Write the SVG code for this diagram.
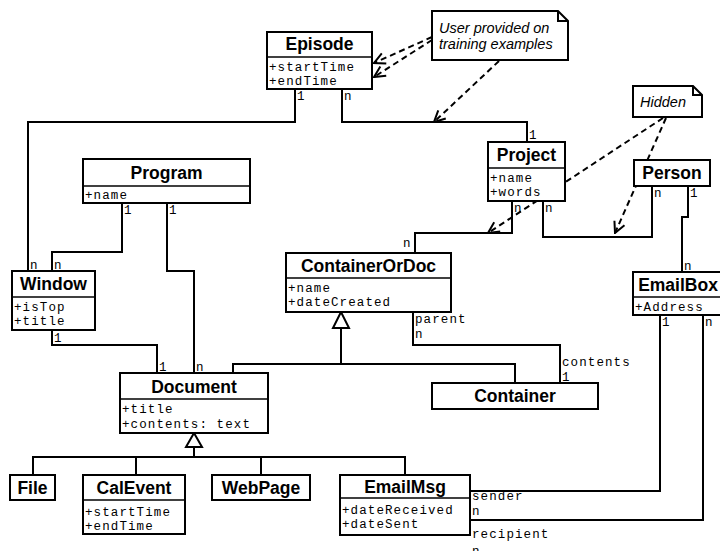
<svg xmlns="http://www.w3.org/2000/svg" width="720" height="551" viewBox="0 0 720 551">
<defs>
<marker id="open" viewBox="0 0 14 14" refX="13" refY="7" markerWidth="14" markerHeight="14" markerUnits="userSpaceOnUse" orient="auto">
<path d="M2,1.5 L13,7 L2,12.5" fill="none" stroke="#000" stroke-width="2" stroke-dasharray="none"/>
</marker>
</defs>
<style>
.box{fill:#fff;stroke:#000;stroke-width:2}
.dv{stroke:#000;stroke-width:1.5}
.t{font-family:"Liberation Sans",Arial,sans-serif;font-weight:bold;font-size:17.5px;text-anchor:middle}
.a{font-family:"Liberation Mono","Courier New",monospace;font-size:12.5px;letter-spacing:1.1px}
.c{fill:none;stroke:#000;stroke-width:2}
.d{fill:none;stroke:#000;stroke-width:2;stroke-dasharray:6 4}
.tri{fill:#fff;stroke:#000;stroke-width:2}
.nt{font-family:"Liberation Sans",Arial,sans-serif;font-style:italic;font-size:14.5px}
</style>
<rect width="720" height="551" fill="#fff"/>

<g id="connectors">
<polyline class="c" points="295,89 295,122 28,122 28,271"/>
<polyline class="c" points="342,89 342,122 527,122 527,142"/>
<polyline class="c" points="122,203 122,252 52,252 52,271"/>
<polyline class="c" points="167,203 167,271 194,271 194,373"/>
<polyline class="c" points="52,330 52,345 157,345 157,373"/>
<polyline class="c" points="512,201 512,233 415,233 415,253"/>
<polyline class="c" points="543,201 543,237 652,237 652,186"/>
<polyline class="c" points="688,186 688,217 682,217 682,272"/>
<polyline class="c" points="413,312 413,345 560,345 560,383"/>
<polyline class="c" points="233,373 233,364 341,364 341,328"/>
<polyline class="c" points="515,383 515,364 341,364"/>
<polygon class="tri" points="341,312 333,328 349,328"/>
<polyline class="c" points="194,447 194,457"/>
<polyline class="c" points="33,475 33,457 405,457 405,475"/>
<line class="c" x1="136" y1="457" x2="136" y2="475"/>
<line class="c" x1="261" y1="457" x2="261" y2="475"/>
<polygon class="tri" points="194,433 186,447 202,447"/>
<polyline class="c" points="660,315 660,491 470,491"/>
<polyline class="c" points="703,315 703,520 470,520"/>
<line class="d" x1="432" y1="37" x2="374" y2="63" marker-end="url(#open)"/>
<line class="d" x1="432" y1="40" x2="374" y2="77" marker-end="url(#open)"/>
<line class="d" x1="499" y1="61" x2="434" y2="122" marker-end="url(#open)"/>
<line class="d" x1="663" y1="118" x2="488" y2="233" marker-end="url(#open)"/>
<line class="d" x1="666" y1="118" x2="615" y2="233" marker-end="url(#open)"/>
<g class="a">
<text x="297" y="100">1</text>
<text x="344" y="100">n</text>
<text x="529" y="139">1</text>
<text x="30" y="269">n</text>
<text x="54" y="269">n</text>
<text x="124" y="214">1</text>
<text x="169" y="214">1</text>
<text x="54" y="342">1</text>
<text x="159" y="371">1</text>
<text x="196" y="371">n</text>
<text x="514" y="212">n</text>
<text x="545" y="212">n</text>
<text x="403" y="247">n</text>
<text x="654" y="197">n</text>
<text x="690" y="197">1</text>
<text x="684" y="270">n</text>
<text x="662" y="326">1</text>
<text x="705" y="326">n</text>
<text x="415" y="323">parent</text>
<text x="415" y="338">n</text>
<text x="562" y="366">contents</text>
<text x="562" y="381">1</text>
<text x="472" y="500">sender</text>
<text x="472" y="515">n</text>
<text x="472" y="538">recipient</text>
<text x="472" y="555">n</text>
</g>
</g>

<g id="note-user">
<path class="box" d="M432,11 H558 L568,21 V60 H432 Z"/>
<path class="c" d="M558,11 V21 H568"/>
<text class="nt" x="439" y="33">User provided on</text>
<text class="nt" x="439" y="49">training examples</text>
</g>
<g id="note-hidden">
<path class="box" d="M633,86 H693 L702,95 V117 H633 Z"/>
<path class="c" d="M693,86 V95 H702"/>
<text class="nt" x="640" y="107">Hidden</text>
</g>

<g id="Episode">
<rect class="box" x="267" y="32" width="105" height="57"/>
<line class="dv" x1="267" y1="57" x2="372" y2="57"/>
<text class="t" x="319.5" y="50">Episode</text>
<text class="a" x="269" y="71">+startTime</text>
<text class="a" x="269" y="85">+endTime</text>
</g>
<g id="Program">
<rect class="box" x="83" y="159" width="167" height="44"/>
<line class="dv" x1="83" y1="186" x2="250" y2="186"/>
<text class="t" x="166.5" y="179">Program</text>
<text class="a" x="85" y="199">+name</text>
</g>
<g id="Window">
<rect class="box" x="12" y="271" width="83" height="59"/>
<line class="dv" x1="12" y1="297" x2="95" y2="297"/>
<text class="t" x="53.5" y="290">Window</text>
<text class="a" x="14" y="311">+isTop</text>
<text class="a" x="14" y="325">+title</text>
</g>
<g id="Project">
<rect class="box" x="488" y="142" width="77" height="59"/>
<line class="dv" x1="488" y1="168" x2="565" y2="168"/>
<text class="t" x="526.5" y="161">Project</text>
<text class="a" x="490" y="182">+name</text>
<text class="a" x="490" y="196">+words</text>
</g>
<g id="Person">
<rect class="box" x="634" y="160" width="76" height="26"/>
<text class="t" x="672" y="179">Person</text>
</g>
<g id="ContainerOrDoc">
<rect class="box" x="286" y="253" width="165" height="59"/>
<line class="dv" x1="286" y1="278" x2="451" y2="278"/>
<text class="t" x="368.5" y="272">ContainerOrDoc</text>
<text class="a" x="288" y="292">+name</text>
<text class="a" x="288" y="306">+dateCreated</text>
</g>
<g id="EmailBox">
<rect class="box" x="633" y="272" width="92" height="43"/>
<line class="dv" x1="633" y1="297" x2="725" y2="297"/>
<text class="t" x="678" y="291">EmailBox</text>
<text class="a" x="635" y="311">+Address</text>
</g>
<g id="Container">
<rect class="box" x="432" y="383" width="166" height="26"/>
<text class="t" x="515" y="402">Container</text>
</g>
<g id="Document">
<rect class="box" x="120" y="373" width="148" height="60"/>
<line class="dv" x1="120" y1="399" x2="268" y2="399"/>
<text class="t" x="194" y="393">Document</text>
<text class="a" x="122" y="413">+title</text>
<text class="a" x="122" y="428">+contents: text</text>
</g>
<g id="File">
<rect class="box" x="10" y="475" width="45" height="25"/>
<text class="t" x="32.5" y="494">File</text>
</g>
<g id="CalEvent">
<rect class="box" x="83" y="475" width="102" height="59"/>
<line class="dv" x1="83" y1="500" x2="185" y2="500"/>
<text class="t" x="134" y="494">CalEvent</text>
<text class="a" x="85" y="516">+startTime</text>
<text class="a" x="85" y="530">+endTime</text>
</g>
<g id="WebPage">
<rect class="box" x="212" y="475" width="98" height="25"/>
<text class="t" x="261" y="494">WebPage</text>
</g>
<g id="EmailMsg">
<rect class="box" x="340" y="475" width="130" height="60"/>
<line class="dv" x1="340" y1="498" x2="470" y2="498"/>
<text class="t" x="405" y="493">EmailMsg</text>
<text class="a" x="342" y="514">+dateReceived</text>
<text class="a" x="342" y="528">+dateSent</text>
</g>
</svg>
